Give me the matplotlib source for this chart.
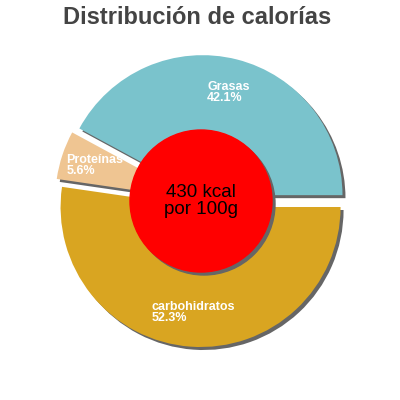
import matplotlib.pyplot as plt
from matplotlib.patches import Circle

plt.rcParams['font.family'] = ['Liberation Sans', 'DejaVu Sans']

# data
categories = ['Grasas', 'Proteínas', 'carbohidratos']
percents = [42.1, 5.6, 52.3]
colors = ['#7ac3cc', '#efc592', '#d9a521']
kcal_label = '430 kcal\npor 100g'
title = 'Distribución de calorías'

px = 140.0  # pixels per data unit (pie radius)
shadow = 3 / px

fig = plt.figure(figsize=(4, 4), dpi=100)
ax = fig.add_axes([0, 0, 1, 1])

explode = [0.043] * len(percents)

# shadow pie
ax.pie(percents, explode=explode, colors=['#666666'] * 3, startangle=0,
       center=(shadow, -shadow), radius=1.0, frame=True)

labels = [f'{c}\n{p}%' for c, p in zip(categories, percents)]
wedges, texts = ax.pie(percents, explode=explode, colors=colors, startangle=0,
                       labels=labels, labeldistance=0.755, radius=1.0,
                       frame=True,
                       textprops=dict(color='white', fontsize=9,
                                      fontweight='bold', linespacing=0.85))
for t in texts:
    t.set_ha('center')
    t.set_va('center')
    t.set_multialignment('left')

ax.set_xlim(-201 / px, 199 / px)
ax.set_ylim(-199 / px, 201 / px)
ax.axis('off')

ax.add_patch(Circle((shadow, -shadow), 71 / px, color='#666666', zorder=3))
ax.add_patch(Circle((0, 0), 71 / px, color='#ff0000', zorder=4))
ax.text(0, 0, kcal_label, ha='center', va='center', fontsize=13.5,
        color='black', zorder=5, linespacing=1.0)

fig.text(0.4925, 0.955, title, ha='center', va='center', fontsize=17,
         fontweight='bold', color='#444444')

fig.savefig('out.png', dpi=100)
